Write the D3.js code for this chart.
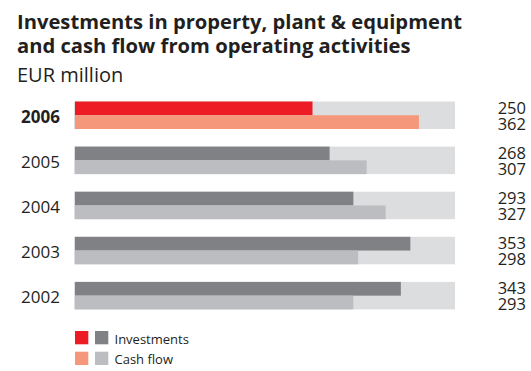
<!DOCTYPE html>
<html>
<head>
<meta charset="utf-8">
<script src="https://cdn.jsdelivr.net/npm/d3@7"></script>
<style>
  html, body { margin: 0; padding: 0; background: #fff; }
  svg { display: block; font-family: "Open Sans", "Noto Sans", sans-serif; }
</style>
</head>
<body>
<svg id="chart" width="531" height="371"></svg>
<script>
// Data (EUR million)
const years = ["2006", "2005", "2004", "2003", "2002"];
const investments = [250, 268, 293, 353, 343];
const cashFlow = [362, 307, 327, 298, 293];
const xTicks = [0, 400];

const titleLines = ["Investments in property, plant & equipment", "and cash flow from operating activities"];
const subtitle = "EUR million";
const legendLabels = ["Investments", "Cash flow"];

const colors = {
  text: "#231f20",
  track: "#dcddde",
  invCurrent: "#ed1c24",
  cashCurrent: "#f5977a",
  inv: "#808184",
  cash: "#bcbdc0"
};

const svg = d3.select("#chart");

// Title block
const title = svg.append("g").attr("fill", colors.text);
title.selectAll("text.t")
  .data(titleLines)
  .join("text")
  .attr("class", "t")
  .attr("x", 17)
  .attr("y", (d, i) => 29 + i * 24)
  .attr("font-size", 20.2)
  .attr("font-weight", 700)
  .text(d => d);
title.append("text")
  .attr("x", 17)
  .attr("y", 82)
  .attr("font-size", 20)
  .text(subtitle);

// Scales
const rowStep = 45.1, trackH = 27.5, plotTop = 101.5;
const x = d3.scaleLinear().domain(d3.extent(xTicks)).range([75, 455]);
const y = d3.scaleBand()
  .domain(years)
  .range([plotTop, plotTop + rowStep * (years.length - 1) + trackH])
  .paddingInner(1 - trackH / rowStep)
  .paddingOuter(0);

const rows = svg.append("g").selectAll("g.row")
  .data(years.map((yr, i) => ({ yr, inv: investments[i], cash: cashFlow[i], current: i === 0 })))
  .join("g")
  .attr("class", "row")
  .attr("transform", d => `translate(0,${y(d.yr)})`);

const bh = y.bandwidth();

// Background track
rows.append("rect")
  .attr("x", x(0) - 1)
  .attr("y", 0)
  .attr("width", x(400) - x(0) + 1)
  .attr("height", bh)
  .attr("fill", colors.track);

// Investment bar (upper half)
rows.append("rect")
  .attr("x", x(0))
  .attr("y", 0)
  .attr("width", d => x(d.inv) - x(0))
  .attr("height", bh / 2)
  .attr("fill", d => d.current ? colors.invCurrent : colors.inv);

// Cash flow bar (lower half)
rows.append("rect")
  .attr("x", x(0))
  .attr("y", bh / 2)
  .attr("width", d => x(d.cash) - x(0))
  .attr("height", bh / 2)
  .attr("fill", d => d.current ? colors.cashCurrent : colors.cash);

// Year labels
rows.append("text")
  .attr("x", 60)
  .attr("y", bh / 2 + 7.3)
  .attr("text-anchor", "end")
  .attr("font-size", 17)
  .attr("font-weight", d => d.current ? 700 : 400)
  .attr("fill", colors.text)
  .text(d => d.yr);

// Value labels
rows.append("text")
  .attr("x", 526)
  .attr("y", 12)
  .attr("text-anchor", "end")
  .attr("font-size", 16.5)
  .attr("fill", colors.text)
  .text(d => d.inv);
rows.append("text")
  .attr("x", 526)
  .attr("y", 28.5)
  .attr("text-anchor", "end")
  .attr("font-size", 16.5)
  .attr("fill", colors.text)
  .text(d => d.cash);

// Legend
const legend = svg.append("g");
const legendRows = [
  [colors.invCurrent, colors.inv],
  [colors.cashCurrent, colors.cash]
];
legendRows.forEach((pair, i) => {
  const g = legend.append("g").attr("transform", `translate(75,${331 + i * 20.7})`);
  g.selectAll("rect").data(pair).join("rect")
    .attr("x", (d, j) => j * 20)
    .attr("y", 0)
    .attr("width", 13.3)
    .attr("height", 13.3)
    .attr("fill", d => d);
  g.append("text")
    .attr("x", 39.5)
    .attr("y", 12.5)
    .attr("font-size", 13)
    .attr("fill", colors.text)
    .text(legendLabels[i]);
});
</script>
</body>
</html>
